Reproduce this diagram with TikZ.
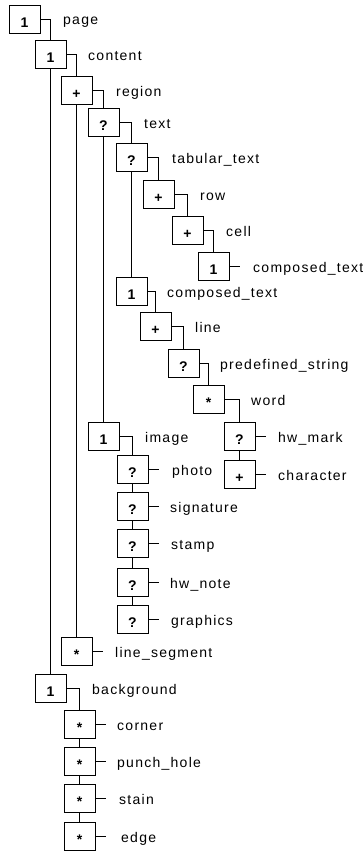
\documentclass[tikz,border=0pt]{standalone}
\usepackage{fontspec}
\setmainfont{Liberation Sans}
\newfontfamily\lblfont[LetterSpace=9]{Liberation Sans}
\begin{document}
\begin{tikzpicture}[x=1pt,y=-1pt,
  bx/.style={draw,line width=0.9pt,minimum width=31pt,minimum height=28pt,inner sep=0pt},
  sym/.style={anchor=base,inner sep=0pt,font=\fontsize{14pt}{16pt}\selectfont\bfseries},
  lbl/.style={anchor=base west,inner sep=0pt,font=\fontsize{14pt}{16pt}\lblfont},
  cn/.style={line width=0.9pt}]
\useasboundingbox (0,0) rectangle (363,851);
\newcommand\bx[6]{%
  \node[bx] (#1) at (#2+15.5,#3+14) {};
  \node[sym] (#1s) at ([yshift=-8.5pt]#1.center) {#4};
  \node[lbl] (#1l) at (#6,#3+20) {#5};}
\bx{page}{9}{5}{1}{page}{63}
\bx{content}{35}{40}{1}{content}{88}
\bx{region}{61}{76}{+}{region}{116}
\bx{text}{88}{108}{?}{text}{144}
\bx{tab}{116}{143}{?}{tabular\_text}{172}
\bx{row}{143}{180}{+}{row}{200}
\bx{cell}{172}{216}{+}{cell}{226}
\bx{cta}{198}{252}{1}{composed\_text}{253}
\bx{ctb}{116}{277}{1}{composed\_text}{167}
\bx{line}{140}{312}{+}{line}{195}
\bx{pre}{168}{349}{?}{predefined\_string}{220}
\bx{word}{193}{385}{*}{word}{251}
\bx{hwm}{224}{422}{?}{hw\_mark}{278}
\bx{char}{224}{460}{+}{character}{278}
\bx{image}{88}{422}{1}{image}{145}
\bx{photo}{117}{455}{?}{photo}{172}
\bx{sig}{117}{492}{?}{signature}{170}
\bx{stamp}{117}{529}{?}{stamp}{171}
\bx{hwn}{117}{568}{?}{hw\_note}{170}
\bx{gra}{117}{605}{?}{graphics}{171}
\bx{lseg}{61}{637}{*}{line\_segment}{115}
\bx{bg}{35}{674}{1}{background}{92}
\bx{corner}{64}{710}{*}{corner}{117}
\bx{punch}{64}{747}{*}{punch\_hole}{117}
\bx{stain}{64}{784}{*}{stain}{119}
\bx{edge}{64}{822}{*}{edge}{121}
% parent -> first child
\draw[cn] (page.east) -| (content.north);
\draw[cn] (content.east) -| (region.north);
\draw[cn] (region.east) -| (text.north);
\draw[cn] (text.east) -| (tab.north);
\draw[cn] (tab.east) -| (row.north);
\draw[cn] (row.east) -| (cell.north);
\draw[cn] (cell.east) -| (cta.north);
\draw[cn] (ctb.east) -| (line.north);
\draw[cn] (line.east) -| (pre.north);
\draw[cn] (pre.east) -| (word.north);
\draw[cn] (word.east) -| (hwm.north);
\draw[cn] (image.east) -| (photo.north);
\draw[cn] (bg.east) -| (corner.north);
% siblings
\draw[cn] (content.south) -- (bg.north);
\draw[cn] (region.south) -- (lseg.north);
\draw[cn] (text.south) -- (image.north);
\draw[cn] (tab.south) -- (ctb.north);
\draw[cn] (hwm.south) -- (char.north);
\draw[cn] (photo.south) -- (sig.north);
\draw[cn] (sig.south) -- (stamp.north);
\draw[cn] (stamp.south) -- (hwn.north);
\draw[cn] (hwn.south) -- (gra.north);
\draw[cn] (corner.south) -- (punch.north);
\draw[cn] (punch.south) -- (stain.north);
\draw[cn] (stain.south) -- (edge.north);
% leaf ticks
\foreach \n in {cta,hwm,char,photo,sig,stamp,hwn,gra,lseg,corner,punch,stain,edge}{
  \coordinate (\n t) at ([xshift=11pt]\n.east);
  \draw[cn] (\n.east) -- (\n t);}
\end{tikzpicture}
\end{document}
